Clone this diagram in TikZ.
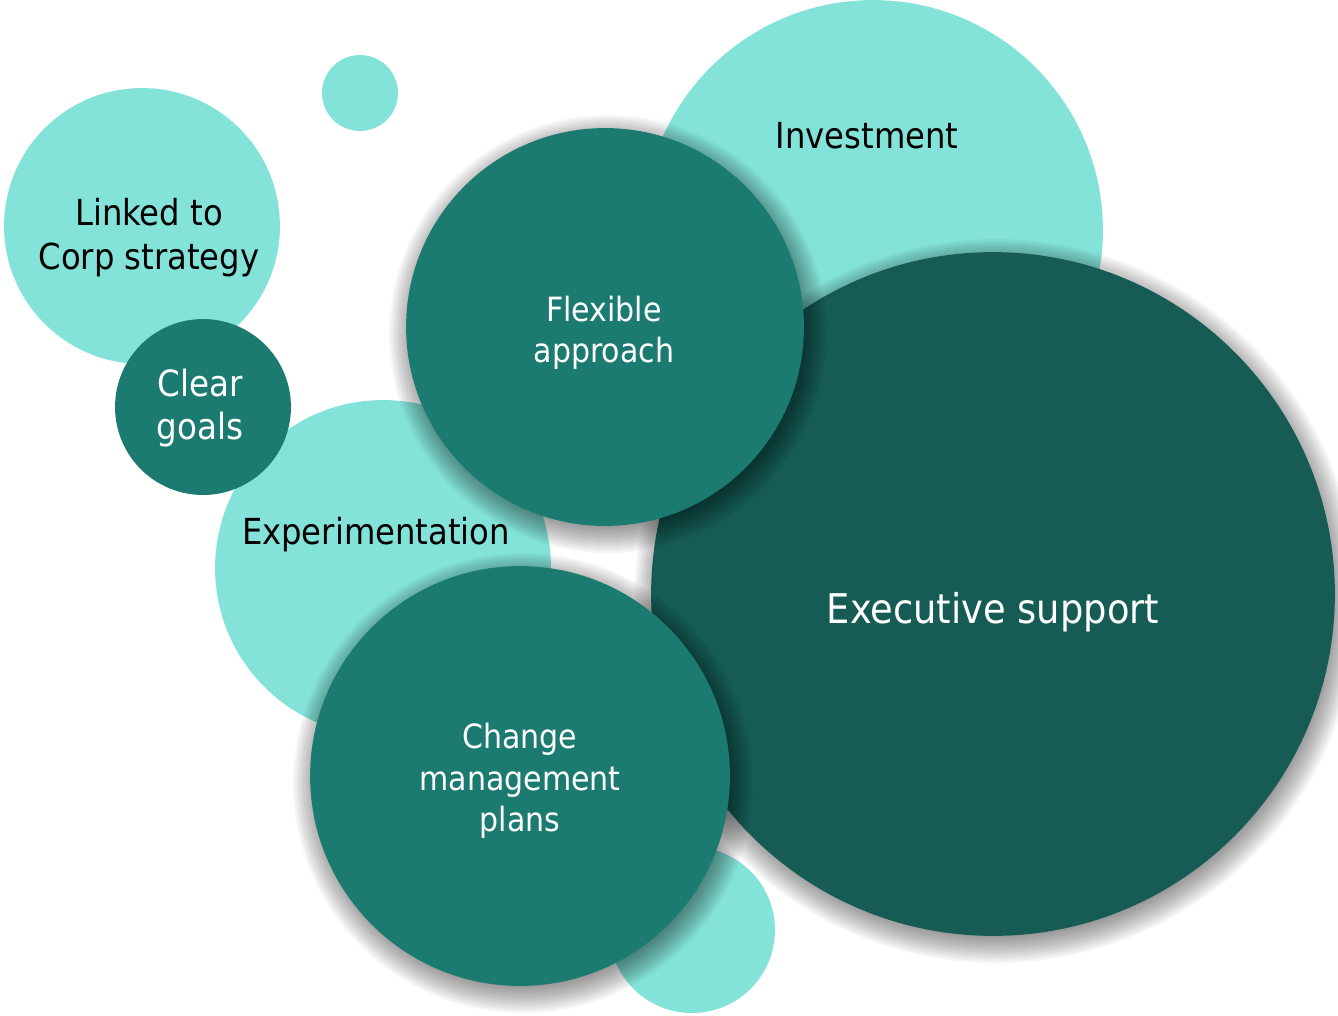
\documentclass[tikz,border=0pt]{standalone}
\usepackage{fontspec}
\setmainfont{DejaVu Sans Condensed}

\definecolor{bubblelight}{HTML}{84E3D8}
\definecolor{bubblemid}{HTML}{1C7B70}
\definecolor{bubbledark}{HTML}{165C55}

% soft shadow under a bubble: centre x, centre y, radius (in px)
\newcommand{\bubshadow}[3]{%
  \foreach \k in {-12,-10,...,20}
    \fill[black, opacity=.036] (#1+3,#2+7) circle ({#3+\k});
}

\tikzset{
  bub/.style={circle, inner sep=0pt, minimum size=#1*0.04cm},
  palebub/.style={bub=#1, fill=bubblelight},
  midbub/.style={bub=#1, fill=bubblemid},
  darkbub/.style={bub=#1, fill=bubbledark},
  darktxt/.style={align=center, text=black, font=\fontsize{20.4}{25}\selectfont},
  lighttxt/.style={align=center, text=white, font=\fontsize{19}{23.5}\selectfont},
}

\begin{document}
\begin{tikzpicture}[x=0.02cm, y=-0.02cm]
\useasboundingbox (0,0) rectangle (1338,1015);

\node (dot1) at (360,93) [palebub=38] {};
\node (linked) at (142,226) [palebub=138] {};
\node (exper) at (383,568) [palebub=168] {};
\node (clear) at (203,407) [midbub=88] {};
\node (invest) at (873,230) [palebub=230] {};
\node (dot2) at (692,930) [palebub=83] {};

\bubshadow{993}{594}{342}
\node (exec) at (993,594) [darkbub=342] {};
\bubshadow{605}{327}{199}
\node (flex) at (605,327) [midbub=199] {};
\bubshadow{520}{776}{210}
\node (change) at (520,776) [midbub=210] {};

\node (linkedtxt) at (149,238) [darktxt] {Linked to\\Corp strategy};
\node (investtxt) at (867,136) [darktxt] {Investment};
\node (expertxt) at (376,535) [darktxt] {Experimentation};
\node (cleartxt) at (200,408) [lighttxt, font=\fontsize{20.6}{25}\selectfont] {Clear\\goals};
\node (flextxt) at (604,333) [lighttxt] {Flexible\\approach};
\node (changetxt) at (520,781) [lighttxt] {Change\\management\\plans};
\node (exectxt) at (993,612) [lighttxt, font=\fontsize{23.3}{28}\selectfont] {Executive support};
\end{tikzpicture}
\end{document}
